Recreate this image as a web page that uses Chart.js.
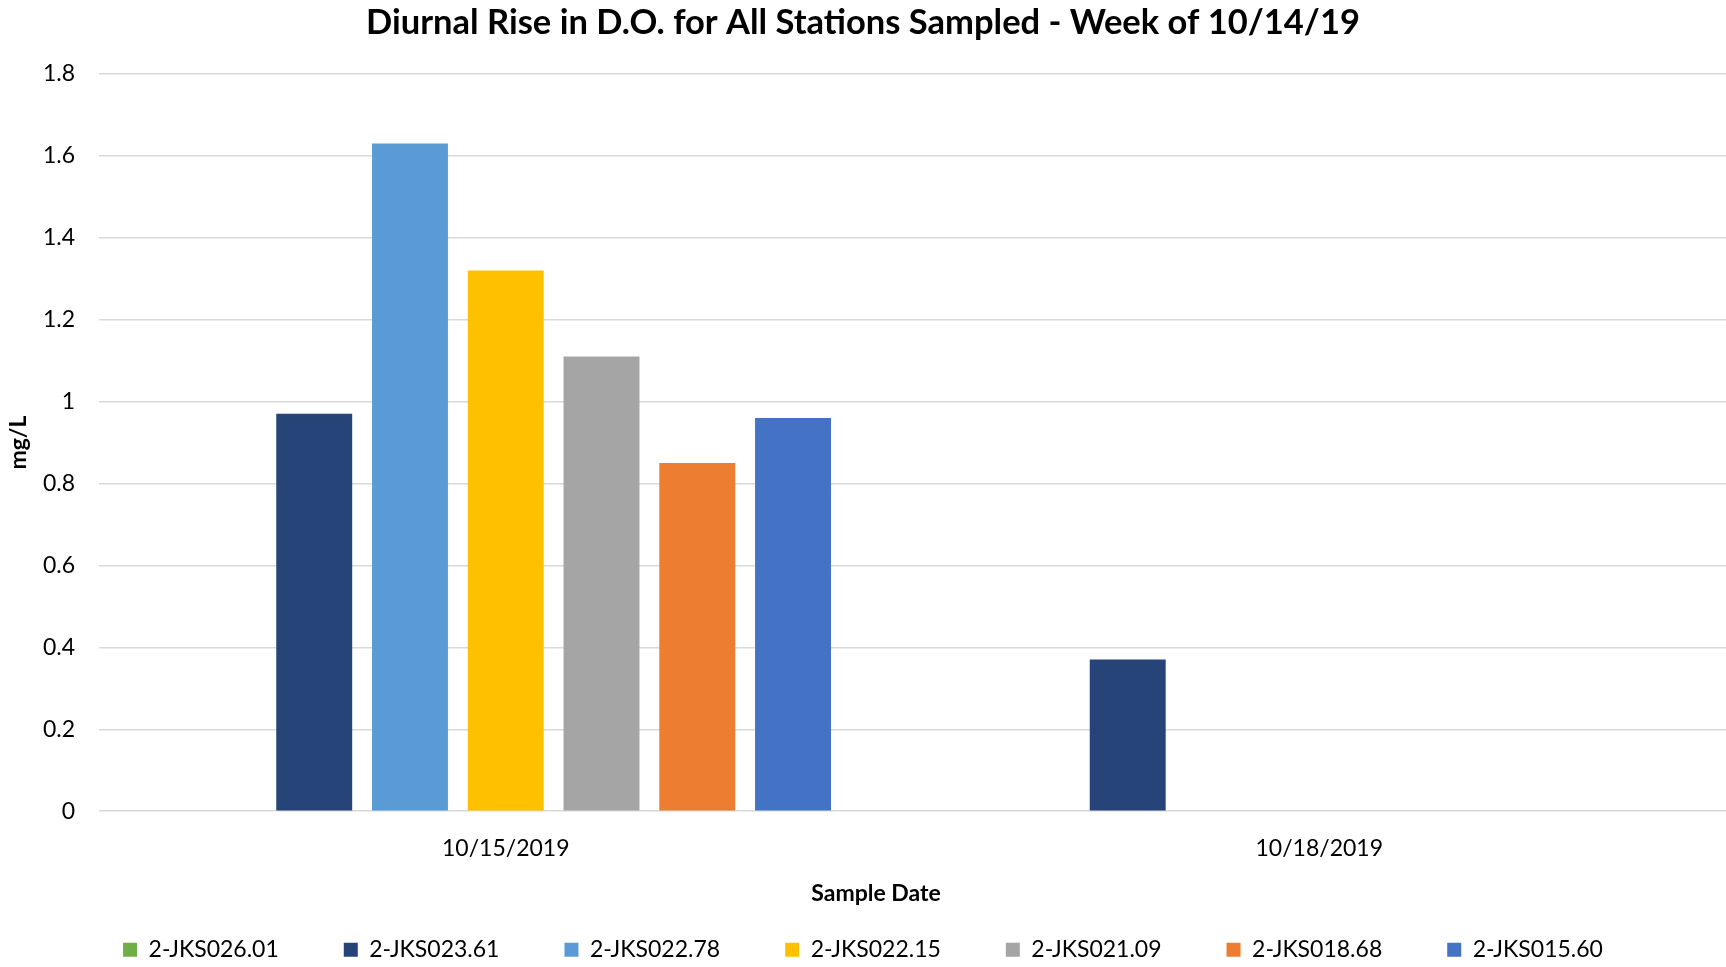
<!DOCTYPE html>
<html>
<head>
<meta charset="utf-8">
<title>Diurnal Rise in D.O.</title>
<script src="https://cdn.jsdelivr.net/npm/chart.js@4"></script>
<style>
  html, body { margin: 0; padding: 0; background: #fff; }
  #wrap { width: 1726px; height: 967px; }
</style>
</head>
<body>
<div id="wrap"><canvas id="doChart"></canvas></div>
<script>
// Sample dates and stations
const sampleDates = ['10/15/2019', '10/18/2019'];
const stations = ['2-JKS026.01', '2-JKS023.61', '2-JKS022.78', '2-JKS022.15', '2-JKS021.09', '2-JKS018.68', '2-JKS015.60'];

// Diurnal rise (mg/L) per station, one value per sample date
const jks02601 = [null, null];
const jks02361 = [0.97, 0.37];
const jks02278 = [1.63, null];
const jks02215 = [1.32, null];
const jks02109 = [1.11, null];
const jks01868 = [0.85, null];
const jks01560 = [0.96, null];

const stationColors = ['#70AD47', '#264478', '#5B9BD5', '#FFC000', '#A5A5A5', '#ED7D31', '#4472C4'];
const seriesValues = [jks02601, jks02361, jks02278, jks02215, jks02109, jks01868, jks01560];

const font = 'Lato, "Noto Sans", sans-serif';

const datasets = stations.map((name, i) => ({
    label: name,
    data: seriesValues[i],
    backgroundColor: stationColors[i],
    borderWidth: 0,
    categoryPercentage: 0.824,
    barPercentage: 0.793
}));

// x axis title, centred on the page rather than on the plot area
const xAxisTitle = {
    id: 'xAxisTitle',
    afterDraw(chart) {
        const ctx = chart.ctx;
        const xs = chart.scales.x;
        ctx.save();
        ctx.font = 'bold 23px ' + font;
        ctx.fillStyle = '#000';
        ctx.textAlign = 'center';
        ctx.textBaseline = 'middle';
        ctx.fillText('Sample Date', chart.width / 2 + 13, xs.bottom + 20);
        ctx.restore();
    }
};

new Chart(document.getElementById('doChart'), {
    type: 'bar',
    data: { labels: sampleDates, datasets: datasets },
    plugins: [xAxisTitle],
    options: {
        responsive: true,
        maintainAspectRatio: false,
        animation: false,
        layout: { padding: { top: 0, right: 0, bottom: -4.2, left: 0 } },
        scales: {
            x: {
                grid: { display: false },
                border: { display: false },
                ticks: { color: '#000', font: { family: font, size: 23 }, padding: 15.5 },
                afterFit: scale => { scale.height = 62; }
            },
            y: {
                min: 0,
                max: 1.8,
                grid: { color: '#d9d9d9', lineWidth: 1.4, drawTicks: false },
                border: { display: false },
                ticks: {
                    stepSize: 0.2,
                    padding: 24,
                    color: '#000',
                    font: { family: font, size: 23 },
                    callback: v => String(Number(v.toFixed(1)))
                },
                title: {
                    display: true,
                    text: 'mg/L',
                    color: '#000',
                    font: { family: font, size: 23, weight: 'bold' },
                    padding: { top: 5, bottom: 0 }
                },
                afterFit: scale => { scale.width = 99; }
            }
        },
        plugins: {
            title: {
                display: true,
                text: 'Diurnal Rise in D.O. for All Stations Sampled - Week of 10/14/19',
                color: '#000',
                font: { family: font, size: 34.5, weight: 'bold' },
                padding: { top: 2, bottom: 30.4 }
            },
            legend: {
                position: 'bottom',
                labels: {
                    color: '#000',
                    font: { family: font, size: 23 },
                    boxWidth: 14,
                    boxHeight: 14,
                    padding: 65
                }
            },
            tooltip: { enabled: false }
        }
    }
});
</script>
</body>
</html>
